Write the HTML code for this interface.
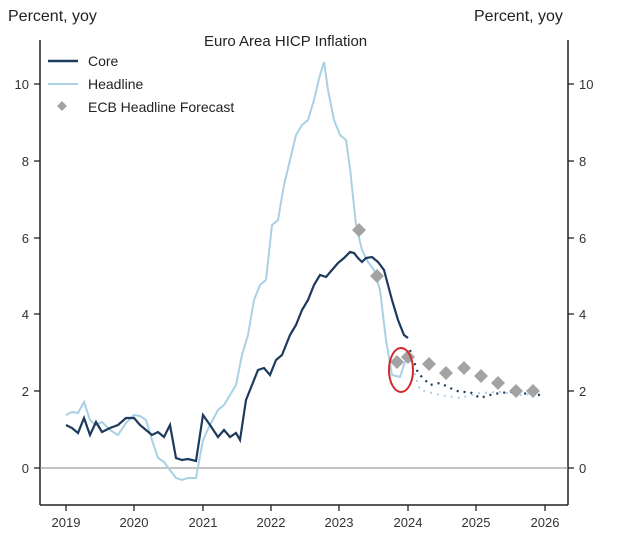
<!DOCTYPE html><html><head><style>body{margin:0;background:#fff}svg{font-family:"Liberation Sans",sans-serif}</style></head><body>
<svg width="620" height="545" viewBox="0 0 620 545">
<text x="8" y="21" font-size="16" fill="#222">Percent, yoy</text>
<text x="474" y="21" font-size="16" fill="#222">Percent, yoy</text>
<text x="204" y="46" font-size="15" fill="#222">Euro Area HICP Inflation</text>
<g stroke="#222" stroke-width="1.5">
<line x1="40" y1="40" x2="40" y2="505"/><line x1="568" y1="40" x2="568" y2="505"/>
<line x1="40" y1="505" x2="568" y2="505"/>
</g>
<line x1="40" y1="468" x2="568" y2="468" stroke="#888" stroke-width="1"/>
<g stroke="#222" stroke-width="1.3">
<line x1="34" y1="468" x2="40" y2="468"/><line x1="34" y1="391" x2="40" y2="391"/><line x1="34" y1="314" x2="40" y2="314"/><line x1="34" y1="238" x2="40" y2="238"/><line x1="34" y1="161" x2="40" y2="161"/><line x1="34" y1="84" x2="40" y2="84"/>
<line x1="568" y1="468" x2="574" y2="468"/><line x1="568" y1="391" x2="574" y2="391"/><line x1="568" y1="314" x2="574" y2="314"/><line x1="568" y1="238" x2="574" y2="238"/><line x1="568" y1="161" x2="574" y2="161"/><line x1="568" y1="84" x2="574" y2="84"/>
<line x1="66" y1="505" x2="66" y2="511"/><line x1="134" y1="505" x2="134" y2="511"/><line x1="203" y1="505" x2="203" y2="511"/><line x1="271" y1="505" x2="271" y2="511"/><line x1="339" y1="505" x2="339" y2="511"/><line x1="408" y1="505" x2="408" y2="511"/><line x1="476" y1="505" x2="476" y2="511"/><line x1="545" y1="505" x2="545" y2="511"/>
</g>
<g font-size="13" fill="#333" text-anchor="end">
<text x="29" y="473">0</text><text x="29" y="396">2</text><text x="29" y="319">4</text><text x="29" y="243">6</text><text x="29" y="166">8</text><text x="29" y="89">10</text>
</g>
<g font-size="13" fill="#333">
<text x="579" y="473">0</text><text x="579" y="396">2</text><text x="579" y="319">4</text><text x="579" y="243">6</text><text x="579" y="166">8</text><text x="579" y="89">10</text>
</g>
<g font-size="13" fill="#333" text-anchor="middle">
<text x="66" y="527">2019</text><text x="134" y="527">2020</text><text x="203" y="527">2021</text><text x="271" y="527">2022</text><text x="339" y="527">2023</text><text x="408" y="527">2024</text><text x="476" y="527">2025</text><text x="545" y="527">2026</text>
</g>
<polyline fill="none" stroke="#a9d0e4" stroke-width="2" points="66,415 72,412 78,413 84,402 90,420 96,425 102,422 110,430 118,435 126,423 134,415 140,416 146,420 152,440 158,458 164,462 170,470 176,478 182,480 188,478 196,478 203,440 210,425 218,410 224,405 230,395 236,385 242,355 248,335 254,300 260,285 266,280 272,225 278,220 284,185 290,160 296,135 302,125 308,120 314,100 320,75 324,62 328,90 334,120 340,135 346,140 350,168 356,225 362,250 368,262 374,270 380,290 386,340 392,375 400,377 405,362 410,360"/>
<polyline fill="none" stroke="#a9d0e4" stroke-width="2" stroke-dasharray="2,5" points="410,360 420,390 440,395 460,398 480,393 500,392 520,395 540,393"/>
<polyline fill="none" stroke="#1d3a5c" stroke-width="2.2" points="66,425 72,428 78,433 84,418 90,435 96,422 102,432 110,428 118,425 126,418 134,418 140,425 146,430 152,435 158,432 164,437 170,425 176,458 182,460 188,459 196,461 203,415 210,425 218,437 224,430 230,437 236,433 240,440 246,400 252,385 258,370 264,368 270,375 276,360 282,355 290,335 296,325 302,310 308,300 314,285 320,275 326,277 332,270 338,263 344,258 350,252 354,253 358,258 362,262 366,258 372,257 378,262 384,270 388,285 392,300 398,320 404,335 408,338"/>
<polyline fill="none" stroke="#1d3a5c" stroke-width="2.2" stroke-dasharray="2,5" points="410,350 418,373 430,385 440,383 450,388 460,392 470,392 480,398 490,395 500,393 510,392 520,393 540,395"/>
<g fill="#a3a3a3">
<path d="M359,223l7,7l-7,7l-7-7z"/><path d="M377,269l7,7l-7,7l-7-7z"/><path d="M397,355l7,7l-7,7l-7-7z"/><path d="M408,350l7,7l-7,7l-7-7z"/><path d="M429,357l7,7l-7,7l-7-7z"/><path d="M446,366l7,7l-7,7l-7-7z"/><path d="M464,361l7,7l-7,7l-7-7z"/><path d="M481,369l7,7l-7,7l-7-7z"/><path d="M498,376l7,7l-7,7l-7-7z"/><path d="M516,384l7,7l-7,7l-7-7z"/><path d="M533,384l7,7l-7,7l-7-7z"/>
</g>
<ellipse cx="401" cy="370" rx="12" ry="22" fill="none" stroke="#d42a2a" stroke-width="2"/>
<line x1="48" y1="61" x2="78" y2="61" stroke="#1d3a5c" stroke-width="2.5"/>
<line x1="48" y1="84" x2="78" y2="84" stroke="#a9d0e4" stroke-width="2"/>
<path d="M62,101l5,5l-5,5l-5-5z" fill="#a3a3a3"/>
<g font-size="14" fill="#222"><text x="88" y="66">Core</text><text x="88" y="89">Headline</text><text x="88" y="112">ECB Headline Forecast</text></g>
</svg></body></html>
